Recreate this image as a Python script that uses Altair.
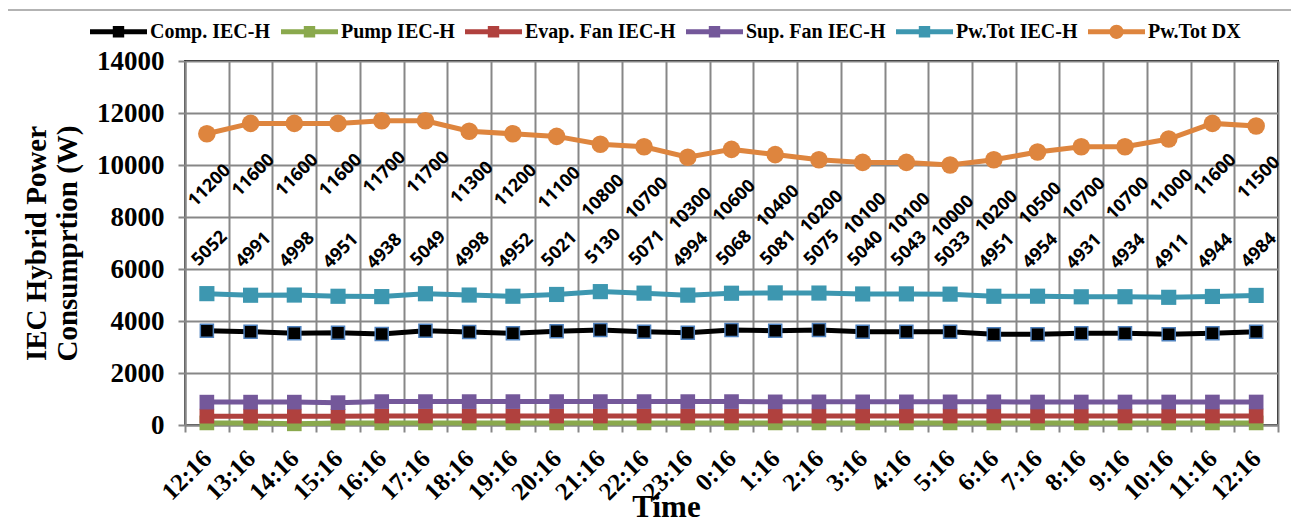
import json
import altair as alt
import pandas as pd

# ---------------- data ----------------
times = ["12:16", "13:16", "14:16", "15:16", "16:16", "17:16", "18:16", "19:16",
         "20:16", "21:16", "22:16", "23:16", "0:16", "1:16", "2:16", "3:16",
         "4:16", "5:16", "6:16", "7:16", "8:16", "9:16", "10:16", "11:16", "12:16"]

series_names = ["Comp. IEC-H", "Pump IEC-H", "Evap. Fan IEC-H",
                "Sup. Fan IEC-H", "Pw.Tot IEC-H", "Pw.Tot DX"]

comp = [3628, 3590, 3526, 3551, 3500, 3628, 3577, 3526, 3603, 3654, 3590, 3551,
        3654, 3628, 3654, 3590, 3590, 3590, 3487, 3487, 3526, 3526, 3487, 3526, 3590]
pump = [80, 80, 45, 80, 80, 80, 80, 80, 80, 80, 80, 80,
        80, 80, 80, 80, 80, 80, 80, 80, 80, 80, 80, 80, 80]
evap = [340, 340, 340, 340, 345, 345, 345, 345, 345, 345, 345, 345,
        345, 345, 345, 345, 345, 345, 345, 345, 345, 345, 345, 345, 345]
sup = [880, 880, 880, 860, 900, 900, 900, 900, 900, 900, 900, 900,
       900, 890, 890, 890, 890, 890, 890, 885, 885, 885, 885, 885, 885]
pw_iec = [5052, 4991, 4998, 4951, 4938, 5049, 4998, 4952, 5021, 5130, 5071, 4994,
          5068, 5081, 5075, 5040, 5043, 5033, 4951, 4954, 4931, 4934, 4911, 4944, 4984]
pw_dx = [11200, 11600, 11600, 11600, 11700, 11700, 11300, 11200, 11100, 10800, 10700, 10300,
         10600, 10400, 10200, 10100, 10100, 10000, 10200, 10500, 10700, 10700, 11000, 11600, 11500]

values_by_series = [comp, pump, evap, sup, pw_iec, pw_dx]

# ---------------- styles ----------------
colors = ["#000000", "#8aa94d", "#b0413e", "#74589a", "#3d97b0", "#de853e"]
marker_shapes = ["square", "square", "square", "square", "square", "circle"]
marker_sizes = [170, 215, 215, 215, 230, 310]
marker_strokes = ["#4f81bd", None, None, None, None, None]

bar = "M-1,-0.09H1V0.09H-1Z "
sq = "M-0.2,-0.2H0.2V0.2H-0.2Z"
circ = "M0.25,0A0.25,0.25 0 1,1 -0.25,0A0.25,0.25 0 1,1 0.25,0Z"
legend_paths = [bar + sq] * 5 + [bar + circ]

rows = []
for name, vals in zip(series_names, values_by_series):
    for i, v in enumerate(vals):
        rows.append({"series": name, "idx": i, "time": times[i], "value": v})
df = pd.DataFrame(rows)

SERIF = "Liberation Serif"
GRID = "#878787"

half_vals = [i - 0.5 for i in range(len(times) + 1)]
x_vals = sorted(half_vals + list(range(len(times))))
label_expr = "datum.value % 1 === 0 ? " + json.dumps(times) + "[datum.value] : ''"

x_axis = alt.Axis(
    values=x_vals,
    labelExpr=label_expr,
    labelAngle=315, labelAlign="right", labelBaseline="middle",
    labelFont=SERIF, labelFontWeight="bold", labelFontSize=25, labelColor="#000",
    labelPadding=22, labelOverlap=False, labelFlush=False,
    grid=True, gridColor=GRID, gridWidth=2,
    gridOpacity={"condition": {"test": "datum.value % 1 !== 0", "value": 1}, "value": 0},
    ticks=True, tickSize=7, tickColor=GRID, tickWidth=2,
    tickOpacity={"condition": {"test": "datum.value % 1 !== 0", "value": 1}, "value": 0},
    domainColor=GRID, domainWidth=2,
    titleFont=SERIF, titleFontWeight="bold", titleFontSize=31, titleColor="#000",
    titleX=481, titleY=82, titleAlign="center", titleBaseline="middle",
)

y_axis = alt.Axis(
    values=list(range(0, 14001, 2000)), format="d",
    labelFont=SERIF, labelFontWeight="bold", labelFontSize=27, labelColor="#000",
    labelPadding=14,
    grid=True, gridColor=GRID, gridWidth=2,
    tickSize=7, tickColor=GRID, tickWidth=2,
    domainColor=GRID, domainWidth=2,
    titleFont=SERIF, titleFontWeight="bold", titleFontSize=29, titleColor="#000",
    titleLineHeight=31, titleAngle=270,
    titleX=-149, titleY=182, titleAlign="center", titleBaseline="middle",
)

x_enc = alt.X("idx:Q", scale=alt.Scale(domain=[-0.5, len(times) - 0.5], nice=False, zero=False),
              axis=x_axis, title="Time")
y_enc = alt.Y("value:Q", scale=alt.Scale(domain=[0, 14000], nice=False),
              axis=y_axis, title=["IEC Hybrid Power", "Consumprtion (W)"])

layers = []

# outer figure frame (decoration)
frame = alt.Chart(alt.Data(values=[{}])).mark_rect(
    fillOpacity=0, stroke="#9a9a9a", strokeWidth=1.5
).encode(x=alt.value(-180), x2=alt.value(1107), y=alt.value(-51), y2=alt.value(480))
layers.append(frame)

for k, name in enumerate(series_names):
    sub = alt.Chart(df).transform_filter(alt.datum.series == name)
    line = sub.mark_line(color=colors[k], strokeWidth=5).encode(x=x_enc, y=y_enc)
    pkw = dict(shape=marker_shapes[k], size=marker_sizes[k], filled=True,
               fill=colors[k], opacity=1)
    if marker_strokes[k]:
        pkw.update(stroke=marker_strokes[k], strokeWidth=1.5)
    pts = sub.mark_point(**pkw).encode(x=x_enc, y=y_enc)
    layers += [line, pts]

label_font = dict(font="Open Sans", fontWeight="bold", fontSize=18, color="#000",
                  angle=315, align="center", baseline="middle")
dx_labels = alt.Chart(df).transform_filter(alt.datum.series == "Pw.Tot DX").mark_text(
    yOffset=52, xOffset=3, **label_font).encode(x=x_enc, y=y_enc, text="value:Q")
iec_labels = alt.Chart(df).transform_filter(alt.datum.series == "Pw.Tot IEC-H").mark_text(
    yOffset=-45, xOffset=3, **label_font).encode(x=x_enc, y=y_enc, text="value:Q")
layers += [dx_labels, iec_labels]

legend = alt.Legend(
    orient="none", legendX=-95, legendY=-58, direction="horizontal", title=None,
    labelFont=SERIF, labelFontWeight="bold", labelFontSize=20, labelColor="#000",
    symbolSize=3249, symbolOpacity=1, symbolStrokeWidth=0,
    labelOffset=3, columnPadding=10,
)
legend_layer = alt.Chart(df).mark_point(filled=True, opacity=0).encode(
    x=x_enc, y=y_enc,
    color=alt.Color("series:N", scale=alt.Scale(domain=series_names, range=colors), legend=legend),
    shape=alt.Shape("series:N", scale=alt.Scale(domain=series_names, range=legend_paths), legend=legend),
)
layers.append(legend_layer)

chart = alt.layer(*layers).properties(
    width=1093, height=364,
    autosize=alt.AutoSizeParams(type="none"),
    padding={"left": 177, "top": 53, "right": 13, "bottom": 115},
    background="white",
).configure_view(stroke="#000", strokeWidth=2)

chart.save("out.html", embed_options={"renderer": "svg", "actions": False})
